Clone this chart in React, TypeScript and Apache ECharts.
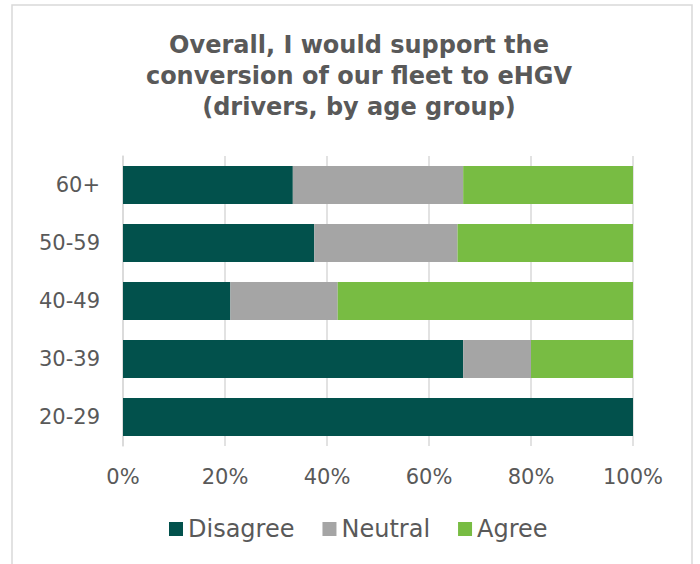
import React, { useEffect, useRef } from "react";
import * as echarts from "echarts";

const categories = ["20-29", "30-39", "40-49", "50-59", "60+"];
const seriesNames = ["Disagree", "Neutral", "Agree"];
const disagree = [100, 66.7, 21.05, 37.5, 33.3];
const neutral = [0, 13.3, 21.05, 28.1, 33.4];
const agree = [0, 20, 57.9, 34.4, 33.3];
const xTicks = [0, 20, 40, 60, 80, 100];
const colors = ["#02514C", "#A5A5A5", "#78BC43"];
const titleText = "Overall, I would support the\nconversion of our fleet to eHGV\n(drivers, by age group)";

export default function App() {
  const ref = useRef<HTMLDivElement>(null);
  useEffect(() => {
    if (!ref.current) return;
    const chart = echarts.init(ref.current, null, { renderer: "svg" });
    const font = "'DejaVu Sans', sans-serif";
    const values = [disagree, neutral, agree];
    chart.setOption({
      animation: false,
      backgroundColor: "#ffffff",
      color: colors,
      title: {
        text: titleText,
        left: 354,
        textAlign: "center",
        top: 24,
        textStyle: {
          fontFamily: font,
          fontWeight: "bold",
          fontSize: 24,
          lineHeight: 31,
          color: "#595959",
        },
      },
      graphic: [
        {
          type: "rect",
          shape: { x: 12, y: 5, width: 680, height: 620 },
          style: { fill: "none", stroke: "#D9D9D9", lineWidth: 1.5 },
          silent: true,
        },
      ],
      legend: {
        data: seriesNames,
        top: 512,
        left: 164,
        icon: "rect",
        itemWidth: 14,
        itemHeight: 14,
        itemGap: 28,
        textStyle: { fontFamily: font, fontSize: 24, color: "#595959", padding: [0, 0, 0, 0] },
      },
      grid: { left: 123, right: 67, top: 156, bottom: 118, containLabel: false },
      xAxis: {
        type: "value",
        min: 0,
        max: 100,
        interval: 20,
        axisLine: { show: false },
        axisTick: { show: false },
        splitLine: { show: true, lineStyle: { color: "#D9D9D9", width: 1.5 } },
        axisLabel: {
          formatter: (v: number) => (xTicks.includes(v) ? v + "%" : ""),
          fontFamily: font,
          fontSize: 21,
          color: "#595959",
          margin: 20,
        },
      },
      yAxis: {
        type: "category",
        data: categories,
        axisLine: { show: true, lineStyle: { color: "#D9D9D9", width: 1.5 } },
        axisTick: { show: false },
        axisLabel: { fontFamily: font, fontSize: 21, color: "#595959", margin: 23 },
      },
      series: seriesNames.map((name, i) => ({
        name,
        type: "bar",
        stack: "total",
        barWidth: 38,
        data: values[i],
        itemStyle: { color: colors[i] },
      })),
    });
    return () => chart.dispose();
  }, []);
  return (
    <div
      ref={ref}
      style={{ position: "fixed", left: 0, top: 0, width: 700, height: 564 }}
    />
  );
}
